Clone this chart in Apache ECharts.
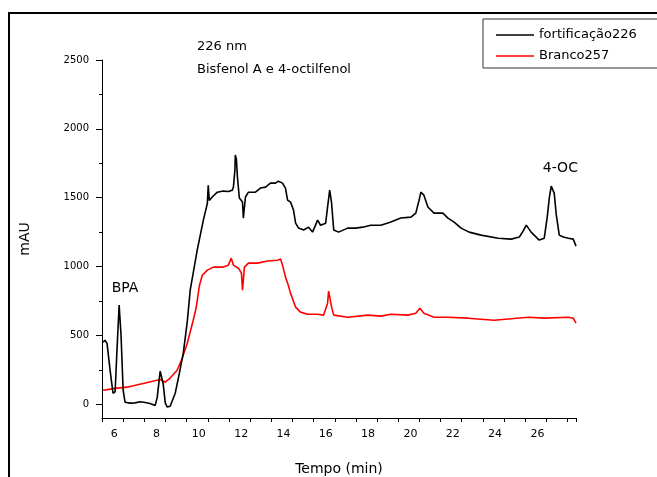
<!DOCTYPE html>
<html>
<head>
<meta charset="utf-8">
<script src="https://cdn.jsdelivr.net/npm/echarts@6/dist/echarts.min.js"></script>
<style>
  html, body { margin: 0; padding: 0; background: #fff; overflow: hidden; }
  #chart { width: 657px; height: 477px; }
</style>
</head>
<body>
<div id="chart"></div>
<script>
// Chromatogram traces: [retention time (min), absorbance (mAU)]
const fortificacao226 = [
  [5.05, 450], [5.14, 465], [5.24, 440], [5.38, 250], [5.52, 80], [5.62, 90],
  [5.71, 400], [5.81, 720], [5.90, 500], [6.00, 100], [6.09, 15], [6.33, 8],
  [6.56, 10], [6.80, 18], [7.04, 12], [7.27, 5], [7.51, -10], [7.61, 50],
  [7.75, 240], [7.89, 150], [7.99, 10], [8.08, -20], [8.22, -15], [8.46, 80],
  [8.65, 220], [8.84, 370], [9.03, 600], [9.17, 830], [9.50, 1120], [9.79, 1337],
  [9.98, 1460], [10.02, 1590], [10.07, 1480], [10.21, 1505], [10.45, 1540],
  [10.73, 1548], [10.97, 1545], [11.16, 1555], [11.21, 1577], [11.28, 1700],
  [11.30, 1810], [11.35, 1780], [11.40, 1650], [11.49, 1497], [11.64, 1468],
  [11.68, 1352], [11.78, 1505], [11.92, 1540], [12.25, 1540], [12.49, 1570],
  [12.73, 1577], [12.96, 1606], [13.20, 1606], [13.34, 1620], [13.53, 1606],
  [13.67, 1570], [13.77, 1483], [13.91, 1468], [14.05, 1410], [14.15, 1315],
  [14.29, 1279], [14.53, 1265], [14.76, 1286], [14.95, 1250], [15.19, 1337],
  [15.33, 1300], [15.57, 1315], [15.66, 1432], [15.76, 1555], [15.85, 1460],
  [15.95, 1265], [16.18, 1250], [16.61, 1279], [16.99, 1279], [17.32, 1286],
  [17.70, 1300], [18.18, 1300], [18.65, 1323], [19.12, 1352], [19.60, 1359],
  [19.83, 1388], [19.98, 1480], [20.07, 1540], [20.21, 1519], [20.40, 1432],
  [20.69, 1388], [21.11, 1388], [21.35, 1352], [21.64, 1323], [21.97, 1279],
  [22.35, 1250], [22.91, 1228], [23.72, 1206], [24.34, 1199], [24.72, 1214],
  [24.91, 1260], [25.05, 1301], [25.28, 1250], [25.66, 1192], [25.90, 1206],
  [26.04, 1359], [26.14, 1500], [26.23, 1584], [26.37, 1533], [26.47, 1373],
  [26.61, 1228], [26.80, 1214], [27.04, 1206], [27.27, 1199], [27.40, 1148]
];

const branco257 = [
  [5.05, 102], [5.62, 115], [6.18, 124], [6.94, 150], [7.75, 180], [7.99, 160],
  [8.22, 190], [8.55, 247], [8.79, 334], [9.03, 443], [9.31, 610], [9.45, 700],
  [9.60, 860], [9.74, 937], [9.98, 974], [10.26, 996], [10.73, 996], [10.97, 1010],
  [11.11, 1061], [11.21, 1010], [11.45, 988], [11.59, 952], [11.64, 828],
  [11.68, 900], [11.73, 996], [11.92, 1025], [12.35, 1025], [12.82, 1040],
  [13.29, 1046], [13.44, 1054], [13.53, 1010], [13.67, 923], [13.77, 880],
  [13.91, 807], [14.15, 705], [14.38, 669], [14.72, 654], [15.19, 654],
  [15.47, 647], [15.66, 734], [15.71, 821], [15.85, 705], [15.95, 647],
  [16.61, 632], [17.56, 647], [18.18, 640], [18.65, 654], [19.45, 647],
  [19.83, 661], [20.02, 698], [20.21, 661], [20.69, 632], [21.35, 632],
  [22.30, 625], [23.53, 610], [25.14, 632], [25.90, 625], [27.04, 632],
  [27.27, 625], [27.40, 589]
];

// Axis ticks
const xMajorTicks = [6, 8, 10, 12, 14, 16, 18, 20, 22, 24, 26];
const yMajorTicks = [0, 500, 1000, 1500, 2000, 2500];
const yMinorTicks = [250, 750, 1250, 1750, 2250];

// Peak annotations: [time, mAU, label]
const peakLabels = [
  [6.09, 843, 'BPA'],
  [26.66, 1715, '4-OC']
];

const FONT = 'DejaVu Sans';
const X_MIN = 5, X_MAX = 27.4, X_STEP = 1, Y_MIN = -100, Y_MAX = 2500;

const chart = echarts.init(document.getElementById('chart'), null, { renderer: 'canvas' });

const plain = v => String(v);

chart.setOption({
  animation: false,
  backgroundColor: '#fff',
  grid: { left: 102, right: 81, top: 60, bottom: 59, containLabel: false, outerBoundsMode: 'none' },
  xAxis: {
    // a tick on every whole minute; even minutes are labelled
    type: 'value', min: X_MIN, max: X_MAX, interval: X_STEP,
    name: 'Tempo (min)', nameLocation: 'middle', nameGap: 44,
    nameTextStyle: { fontFamily: FONT, fontSize: 14, color: '#000' },
    axisLine: { show: true, onZero: false, lineStyle: { color: '#000', width: 1 } },
    axisTick: { show: true, length: 4, lineStyle: { color: '#000', width: 1 } },
    axisLabel: {
      margin: 11, padding: [0, 18, 0, 0],
      formatter: v => (xMajorTicks.indexOf(v) >= 0 ? String(v) : ''),
      fontFamily: FONT, fontSize: 11, color: '#000'
    },
    splitLine: { show: false }
  },
  yAxis: [
    {
      type: 'value', min: Y_MIN, max: Y_MAX,
      name: 'mAU', nameLocation: 'middle', nameGap: 70, nameRotate: 90,
      nameTextStyle: { fontFamily: FONT, fontSize: 14, color: '#000' },
      axisLine: { show: true, onZero: false, lineStyle: { color: '#000', width: 1 } },
      axisTick: { show: true, length: 6, customValues: yMajorTicks, lineStyle: { color: '#000' } },
      axisLabel: {
        customValues: yMajorTicks, margin: 13, formatter: plain,
        fontFamily: FONT, fontSize: 10, color: '#000'
      },
      splitLine: { show: false }
    },
    {
      type: 'value', min: Y_MIN, max: Y_MAX, position: 'left',
      axisLine: { show: false, onZero: false },
      axisTick: { show: true, length: 3, customValues: yMinorTicks, lineStyle: { color: '#000' } },
      axisLabel: { show: false, customValues: yMinorTicks },
      splitLine: { show: false }
    }
  ],
  legend: {
    orient: 'vertical', left: 483, top: 19,
    padding: [9, 30, 5, 13], itemGap: 7,
    icon: 'rect', itemWidth: 38, itemHeight: 1.5,
    borderColor: '#333', borderWidth: 1,
    textStyle: { fontFamily: FONT, fontSize: 13, color: '#000', lineHeight: 14 },
    data: ['fortificação226', 'Branco257']
  },
  graphic: [
    {
      type: 'rect', silent: true, z: 100,
      shape: { x: 9, y: 13, width: 700, height: 520 },
      style: { fill: 'none', stroke: '#000', lineWidth: 2 }
    },
    {
      type: 'text', left: 197, top: 40, silent: true,
      style: { text: '226 nm', font: '13px "' + FONT + '"', fill: '#000' }
    },
    {
      type: 'text', left: 197, top: 63, silent: true,
      style: { text: 'Bisfenol A e 4-octilfenol', font: '13px "' + FONT + '"', fill: '#000' }
    }
  ],
  series: [
    {
      name: 'fortificação226', type: 'line', yAxisIndex: 0,
      data: fortificacao226, symbol: 'none', smooth: false,
      lineStyle: { color: '#000', width: 1.6 }, itemStyle: { color: '#000' },
      z: 3,
      markPoint: {
        symbol: 'circle', symbolSize: 0,
        label: {
          show: true, position: 'inside', formatter: p => p.name,
          fontFamily: FONT, fontSize: 14, color: '#000'
        },
        data: peakLabels.map(p => ({ name: p[2], coord: [p[0], p[1]] }))
      }
    },
    {
      name: 'Branco257', type: 'line', yAxisIndex: 0,
      data: branco257, symbol: 'none', smooth: false,
      lineStyle: { color: '#ff0000', width: 1.6 }, itemStyle: { color: '#ff0000' },
      z: 2
    }
  ]
});
</script>
</body>
</html>
